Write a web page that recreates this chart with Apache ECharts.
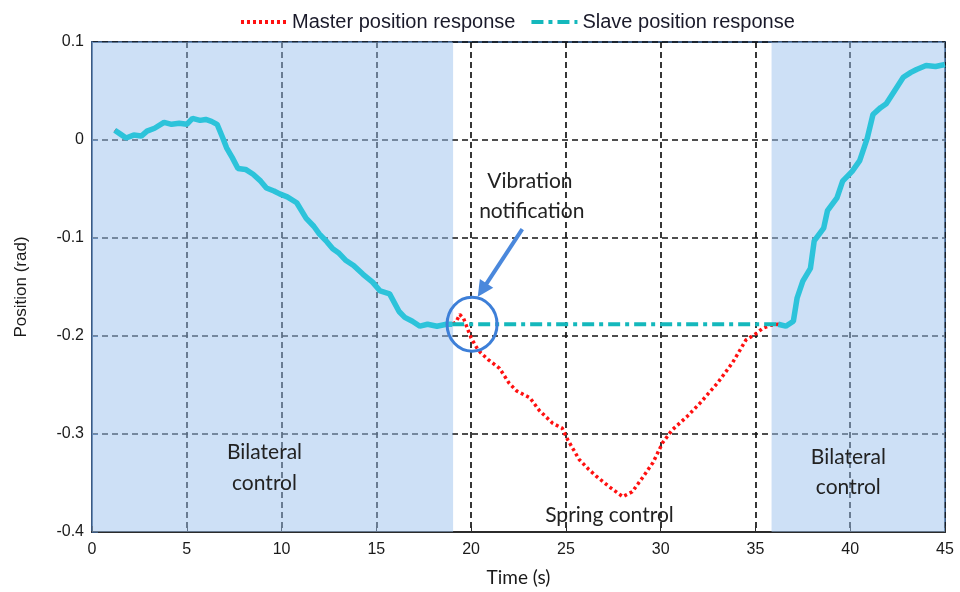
<!DOCTYPE html>
<html>
<head>
<meta charset="utf-8">
<script src="https://cdn.jsdelivr.net/npm/echarts@6/dist/echarts.min.js"></script>
<style>
  html, body { margin: 0; padding: 0; background: #ffffff; }
  #chart { width: 960px; height: 592px; }
</style>
</head>
<body>
<div id="chart"></div>
<script>
// Bilateral control phase 1: master and slave track each other
const timeBilateral1 = [1.2, 1.5, 1.8, 2.2, 2.6, 2.9, 3.3, 3.8, 4.2, 4.6, 5.0, 5.3, 5.7, 6.0, 6.3, 6.6, 6.9, 7.1, 7.4, 7.7, 8.1, 8.5, 8.9, 9.2, 9.6, 9.9, 10.3, 10.8, 11.3, 11.7, 12.0, 12.4, 12.7, 13.0, 13.4, 13.8, 14.3, 14.8, 15.2, 15.7, 16.2, 16.5, 16.9, 17.3, 17.7, 18.2, 18.7, 19.0];
const posBilateral1 = [0.010, 0.006, 0.002, 0.005, 0.004, 0.009, 0.012, 0.018, 0.016, 0.017, 0.016, 0.022, 0.020, 0.021, 0.019, 0.016, 0.002, -0.008, -0.018, -0.029, -0.030, -0.035, -0.042, -0.049, -0.052, -0.055, -0.058, -0.064, -0.080, -0.088, -0.096, -0.104, -0.111, -0.115, -0.123, -0.128, -0.137, -0.145, -0.154, -0.157, -0.175, -0.181, -0.185, -0.190, -0.188, -0.190, -0.188, -0.188];

// Spring control phase: master moves freely, slave holds
const timeSpring = [19.2, 19.4, 19.6, 19.8, 20.0, 20.3, 20.5, 20.9, 21.5, 22.0, 22.4, 23.1, 23.6, 24.3, 24.8, 25.1, 25.7, 26.2, 26.6, 27.3, 28.0, 28.5, 29.1, 29.6, 30.1, 30.6, 31.4, 32.1, 33.0, 33.8, 34.5, 35.0, 35.4, 35.8];
const masterSpring = [-0.186, -0.178, -0.182, -0.192, -0.202, -0.212, -0.217, -0.224, -0.233, -0.248, -0.256, -0.263, -0.276, -0.289, -0.294, -0.306, -0.326, -0.336, -0.343, -0.354, -0.364, -0.359, -0.343, -0.329, -0.309, -0.296, -0.282, -0.268, -0.248, -0.227, -0.204, -0.198, -0.192, -0.189];
const slaveHoldTime = [19.0, 36.2];
const slaveHoldPos = [-0.188, -0.188];

// Bilateral control phase 2
const timeBilateral2 = [36.2, 36.6, 37.0, 37.2, 37.5, 37.9, 38.1, 38.6, 38.8, 39.3, 39.6, 40.1, 40.5, 40.9, 41.2, 41.6, 41.9, 42.3, 42.8, 43.2, 43.5, 44.0, 44.5, 45.0];
const posBilateral2 = [-0.188, -0.190, -0.185, -0.161, -0.144, -0.131, -0.103, -0.090, -0.072, -0.059, -0.042, -0.032, -0.021, 0.002, 0.026, 0.033, 0.037, 0.049, 0.064, 0.069, 0.072, 0.076, 0.075, 0.077];

// Axis ticks
const xTicks = [0, 5, 10, 15, 20, 25, 30, 35, 40, 45];
const yTicks = [-0.4, -0.3, -0.2, -0.1, 0, 0.1];

// Shaded bilateral intervals (s)
const bilateralSpans = [[0, 19.05], [35.85, 45]];

const seriesNames = ['Master position response', 'Slave position response'];

const pair = (ts, vs) => ts.map((t, i) => [t, vs[i]]);

const masterData = pair(timeBilateral1, posBilateral1)
  .concat(pair(timeSpring, masterSpring))
  .concat(pair(timeBilateral2, posBilateral2));
const slaveHoldData = pair(slaveHoldTime, slaveHoldPos);
const slaveTrackData = pair(timeBilateral1, posBilateral1)
  .concat([[null, null]])
  .concat(pair(timeBilateral2, posBilateral2));

const chart = echarts.init(document.getElementById('chart'), null, { renderer: 'canvas' });

const gridLine = { show: true, lineStyle: { color: '#141414', width: 1.7, type: [6, 4] } };

chart.setOption({
  animation: false,
  backgroundColor: '#ffffff',
  legend: {
    data: seriesNames,
    left: 234,
    top: 7,
    itemWidth: 46,
    itemHeight: 12,
    itemGap: 14,
    itemStyle: { opacity: 0 },
    lineStyle: { width: 4 },
    textStyle: { fontFamily: 'Liberation Sans', fontSize: 20, color: '#1a1a2a' }
  },
  grid: {
    left: 92, right: 15, top: 42, bottom: 60,
    show: true, borderColor: '#3b5a82', borderWidth: 2, backgroundColor: 'transparent'
  },
  xAxis: {
    type: 'value',
    min: xTicks[0], max: xTicks[xTicks.length - 1], interval: 5,
    name: 'Time (s)', nameLocation: 'middle', nameGap: 36,
    nameTextStyle: { fontFamily: 'Lato', fontSize: 19, color: '#1a1a1a' },
    axisLine: { show: true, onZero: false, lineStyle: { color: '#2b2b2b', width: 2 } },
    axisTick: { show: true, inside: true, length: 6, lineStyle: { color: '#2b2b2b' } },
    axisLabel: { fontFamily: 'Liberation Sans', fontSize: 16, color: '#1a1a1a', margin: 10 },
    splitLine: gridLine
  },
  yAxis: {
    type: 'value',
    min: yTicks[0], max: yTicks[yTicks.length - 1], interval: 0.1,
    name: 'Position (rad)', nameLocation: 'middle', nameGap: 62, nameRotate: 90,
    nameTextStyle: { fontFamily: 'Liberation Sans', fontSize: 17, color: '#1a1a1a' },
    axisLine: { show: true, onZero: false, lineStyle: { color: '#3b5a82', width: 2 } },
    axisTick: { show: true, inside: true, length: 6, lineStyle: { color: '#3b5a82' } },
    axisLabel: { fontFamily: 'Liberation Sans', fontSize: 16, color: '#1a1a1a', margin: 8 },
    splitLine: gridLine
  },
  series: [
    {
      name: seriesNames[0],
      type: 'line',
      data: masterData,
      symbol: 'none',
      z: 3,
      lineStyle: { color: '#ff1010', width: 3.5, type: [3, 3] },
      itemStyle: { color: '#ff1010' },
      markArea: {
        silent: true,
        itemStyle: { color: 'rgba(155,193,237,0.5)' },
        data: bilateralSpans.map(s => [{ xAxis: s[0] }, { xAxis: s[1] }])
      }
    },
    {
      name: seriesNames[1],
      type: 'line',
      data: slaveHoldData,
      symbol: 'none',
      z: 4,
      lineStyle: { color: '#14b8bc', width: 4, type: [12, 5, 4, 5] },
      itemStyle: { color: '#14b8bc' }
    },
    {
      name: seriesNames[1],
      type: 'line',
      data: slaveTrackData,
      symbol: 'none',
      connectNulls: false,
      z: 4,
      lineStyle: { color: '#2cc3da', width: 5.5 },
      itemStyle: { color: '#2cc3da' }
    }
  ]
});

// Annotations placed in data coordinates
function px(x, y) { return chart.convertToPixel({ gridIndex: 0 }, [x, y]); }
const noteFont = 'Lato';
const noteStyle = (text, p, size) => ({
  type: 'text', x: p[0], y: p[1], z: 20,
  style: { text, fontFamily: noteFont, fontSize: size || 21, fill: '#222222', align: 'center', verticalAlign: 'middle' }
});

const c = px(20.05, -0.188);
const arrowFrom = px(22.7, -0.091);
const arrowTo = px(20.35, -0.160);

chart.setOption({
  graphic: [
    noteStyle('Bilateral', px(9.1, -0.319)),
    noteStyle('control', px(9.1, -0.350)),
    noteStyle('Bilateral', px(39.9, -0.324)),
    noteStyle('control', px(39.9, -0.354)),
    noteStyle('Spring control', px(27.3, -0.383)),
    noteStyle('Vibration', px(23.1, -0.042)),
    noteStyle('notification', px(23.2, -0.073)),
    {
      type: 'ellipse', z: 21,
      shape: { cx: c[0], cy: c[1], rx: 25, ry: 27 },
      style: { fill: 'none', stroke: '#3d7fd8', lineWidth: 3 }
    },
    {
      type: 'line', z: 21,
      shape: { x1: arrowFrom[0], y1: arrowFrom[1], x2: arrowTo[0] + 4, y2: arrowTo[1] - 6 },
      style: { stroke: '#4a88dc', lineWidth: 4 }
    },
    {
      type: 'polygon', z: 21,
      shape: (function () {
        const dx = arrowTo[0] - arrowFrom[0], dy = arrowTo[1] - arrowFrom[1];
        const len = Math.sqrt(dx * dx + dy * dy);
        const ux = dx / len, uy = dy / len;
        const bx = arrowTo[0] - ux * 16, by = arrowTo[1] - uy * 16;
        return { points: [[arrowTo[0], arrowTo[1]], [bx - uy * 8, by + ux * 8], [bx + uy * 8, by - ux * 8]] };
      })(),
      style: { fill: '#4a88dc' }
    }
  ]
});
</script>
</body>
</html>
